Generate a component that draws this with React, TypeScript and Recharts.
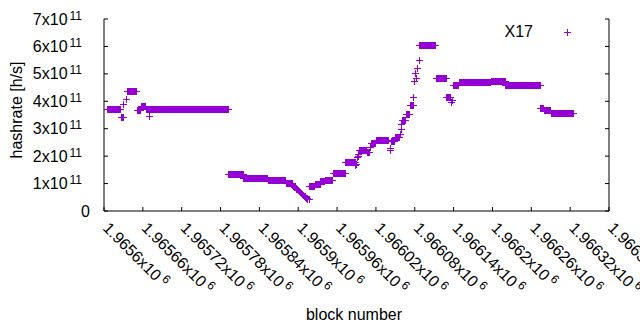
import { ScatterChart, Scatter, XAxis, YAxis, Legend, Label } from 'recharts'

const FONT = '"Liberation Sans", Arial, sans-serif'
const PURPLE = '#9400d3'

// runs of consecutive blocks at the same hashrate (x1e11 h/s)
const runStart = [
  1965604, 1965626, 1965636, 1965651, 1965657, 1965665, 1965792, 1965815, 1965821, 1965853,
  1965881, 1965917, 1965926, 1965934, 1965941, 1965953, 1965973, 1965994, 1966006, 1966012,
  1966020, 1966043, 1966049, 1966060, 1966066, 1966072, 1966087, 1966113, 1966129, 1966139,
  1966148, 1966197, 1966220, 1966274, 1966279, 1966290,
]
const runEnd = [
  1965624, 1965630, 1965650, 1965656, 1965664, 1965791, 1965814, 1965820, 1965852, 1965880,
  1965890, 1965925, 1965933, 1965940, 1965952, 1965972, 1965987, 1966005, 1966010, 1966019,
  1966039, 1966048, 1966056, 1966065, 1966071, 1966077, 1966112, 1966128, 1966134, 1966147,
  1966196, 1966219, 1966273, 1966278, 1966289, 1966325,
]
const runRate = [
  3.71, 3.41, 4.36, 3.68, 3.83, 3.71, 1.35, 1.22, 1.19, 1.12,
  1.02, 0.91, 0.97, 1.09, 1.14, 1.37, 1.78, 2.21, 2.14, 2.47,
  2.59, 2.55, 2.69, 3.3, 3.52, 3.85, 6.04, 4.84, 4.17, 4.6,
  4.69, 4.74, 4.58, 3.76, 3.68, 3.56,
]

// single blocks off the plateaus
const soloBlock = [
  1965630, 1965634, 1965670,
  1965891, 1965892, 1965893, 1965894, 1965895, 1965896, 1965897, 1965898, 1965899, 1965900,
  1965901, 1965902, 1965903, 1965904, 1965905, 1965906, 1965907, 1965908, 1965909, 1965910,
  1965911, 1965912, 1965913, 1965914, 1965916,
  1965988, 1965989, 1965990, 1965992, 1965993, 1966011, 1966041, 1966042,
  1966057, 1966058, 1966059, 1966078, 1966079, 1966080, 1966082, 1966083, 1966086,
  1966136, 1966137,
]
const soloRate = [
  3.9, 4.08, 3.46,
  0.95, 0.92, 0.9, 0.88, 0.86, 0.84, 0.82, 0.79, 0.77, 0.75,
  0.73, 0.71, 0.68, 0.66, 0.64, 0.62, 0.59, 0.57, 0.55, 0.53,
  0.5, 0.48, 0.46, 0.44, 0.43,
  1.68, 1.7, 1.98, 2.08, 2.0, 2.34, 2.22, 2.3,
  2.8, 3.0, 3.16, 4.15, 4.73, 5.02, 4.86, 5.2, 5.5,
  3.98, 4.05,
]

const blockTicks = [
  1965600, 1965660, 1965720, 1965780, 1965840, 1965900, 1965960,
  1966020, 1966080, 1966140, 1966200, 1966260, 1966320, 1966380,
]
const rateTicks = [0, 1e11, 2e11, 3e11, 4e11, 5e11, 6e11, 7e11]

const data: { block: number; rate: number }[] = []
runStart.forEach((s, i) => {
  for (let b = s; b <= runEnd[i]; b++) data.push({ block: b, rate: runRate[i] * 1e11 })
})
soloBlock.forEach((b, i) => data.push({ block: b, rate: soloRate[i] * 1e11 }))

function Plus({ cx, cy }: any) {
  if (cx == null || cy == null) return null
  const x = Math.round(cx) + 0.5
  const y = Math.round(cy) + 0.5
  return (
    <path
      d={`M${x - 3.5} ${y}H${x + 3.5}M${x} ${y - 3.5}V${y + 3.5}`}
      stroke={PURPLE}
      strokeWidth={1}
      fill="none"
    />
  )
}

function BottomTick({ x, y, payload }: any) {
  const label = parseFloat((payload.value / 1e6).toPrecision(6)).toString()
  return (
    <g>
      <line x1={x} y1={y} x2={x} y2={y - 4} stroke="#000" />
      <text
        transform={`translate(${x - 2},${y + 18}) rotate(45)`}
        fontSize={16}
        fontFamily={FONT}
        fill="#000"
      >
        {label}x10
        <tspan dx={3} dy={-6} fontSize={12}>
          6
        </tspan>
      </text>
    </g>
  )
}

function TopTick({ x, y }: any) {
  return <line x1={x} y1={y} x2={x} y2={y + 4} stroke="#000" />
}

function LeftTick({ x, y, payload }: any) {
  const v = payload.value / 1e11
  return (
    <g>
      <line x1={x} y1={y} x2={x + 4} y2={y} stroke="#000" />
      {v === 0 ? (
        <text x={x - 14} y={y + 5.5} textAnchor="end" fontSize={16} fontFamily={FONT} fill="#000">
          0
        </text>
      ) : (
        <text x={x - 22} y={y + 5.5} textAnchor="end" fontSize={16} fontFamily={FONT} fill="#000">
          {v}x10
          <tspan dx={2} dy={-5} fontSize={12}>
            11
          </tspan>
        </text>
      )}
    </g>
  )
}

function RightTick({ x, y }: any) {
  return <line x1={x} y1={y} x2={x - 4} y2={y} stroke="#000" />
}

export default function App() {
  return (
    <div style={{ position: 'absolute', left: 0, top: 0, width: 640, height: 330, background: '#fff' }}>
      <ScatterChart width={640} height={330} margin={{ top: 19, right: 0, bottom: 0, left: 0 }}>
        <XAxis
          xAxisId="b"
          dataKey="block"
          type="number"
          domain={[1965600, 1966380]}
          allowDataOverflow
          ticks={blockTicks}
          interval={0}
          height={119}
          tickSize={0}
          tickMargin={0}
          tickLine={false}
          axisLine={{ stroke: '#000' }}
          tick={(p: any) => <BottomTick {...p} />}
        >
          <Label
            content={() => (
              <text x={354} y={320} textAnchor="middle" fontSize={16} fontFamily={FONT} fill="#000">
                block number
              </text>
            )}
          />
        </XAxis>
        <XAxis
          xAxisId="t"
          orientation="top"
          type="number"
          domain={[1965600, 1966380]}
          allowDataOverflow
          ticks={blockTicks}
          interval={0}
          height={0}
          tickSize={0}
          tickMargin={0}
          tickLine={false}
          axisLine={{ stroke: '#000' }}
          tick={(p: any) => <TopTick {...p} />}
        />
        <YAxis
          yAxisId="l"
          dataKey="rate"
          type="number"
          domain={[0, 7e11]}
          allowDataOverflow
          ticks={rateTicks}
          interval={0}
          width={104}
          tickSize={0}
          tickMargin={0}
          tickLine={false}
          axisLine={{ stroke: '#000' }}
          tick={(p: any) => <LeftTick {...p} />}
        >
          <Label
            content={() => (
              <text
                transform="translate(22,110) rotate(-90)"
                textAnchor="middle"
                fontSize={16}
                fontFamily={FONT}
                fill="#000"
              >
                hashrate [h/s]
              </text>
            )}
          />
        </YAxis>
        <YAxis
          yAxisId="r"
          orientation="right"
          type="number"
          domain={[0, 7e11]}
          allowDataOverflow
          ticks={rateTicks}
          interval={0}
          width={31}
          tickSize={0}
          tickMargin={0}
          tickLine={false}
          axisLine={{ stroke: '#000' }}
          tick={(p: any) => <RightTick {...p} />}
        />
        <Scatter
          xAxisId="b"
          yAxisId="l"
          data={data}
          dataKey="rate"
          name="X17"
          fill={PURPLE}
          shape={(p: any) => <Plus {...p} />}
          isAnimationActive={false}
        />
        <Legend
          layout="horizontal"
          verticalAlign="middle"
          align="center"
          wrapperStyle={{ position: 'absolute', left: 490, top: 22, width: 100, height: 20 }}
          content={({ payload }: any) => (
            <svg width={100} height={20} style={{ display: 'block' }}>
              <text x={43} y={15} textAnchor="end" fontSize={16} fontFamily={FONT} fill="#000">
                {payload?.[0]?.value ?? 'X17'}
              </text>
              <Plus cx={77} cy={10} />
            </svg>
          )}
        />
      </ScatterChart>
    </div>
  )
}
